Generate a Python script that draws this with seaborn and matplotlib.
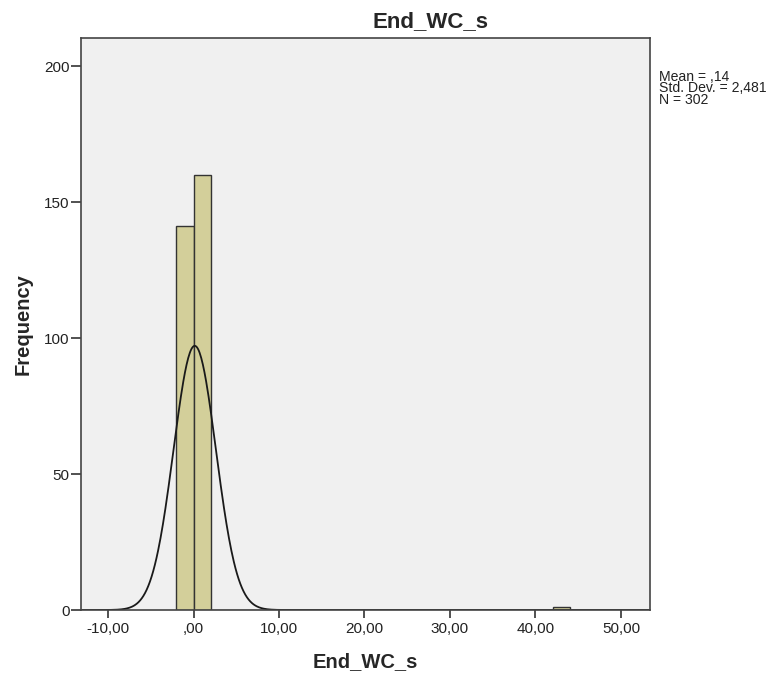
import numpy as np
import pandas as pd
import matplotlib
matplotlib.use("Agg")
import matplotlib.pyplot as plt
import seaborn as sns

# Data
bin_edges = [-2, 0, 2, 4, 6, 8, 10, 12, 14, 16, 18, 20, 22, 24, 26, 28, 30, 32, 34, 36, 38, 40, 42, 44]
bin_centers = [-1, 1, 43]
counts = [141, 160, 1]
mean_val = 0.14
std_val = 2.481
n_val = 302
x_ticks = [-10, 0, 10, 20, 30, 40, 50]
x_tick_labels = ["-10,00", ",00", "10,00", "20,00", "30,00", "40,00", "50,00"]
y_ticks = [0, 50, 100, 150, 200]

sns.set_theme(style="white")
plt.rcParams['font.family'] = ['Liberation Sans', 'DejaVu Sans']

W, H = 777, 681
L, R, T, B = 80.7, 650, 38, 610
fig = plt.figure(figsize=(W / 100, H / 100), dpi=100)
ax = fig.add_axes([L / W, 1 - B / H, (R - L) / W, (B - T) / H])
ax.set_facecolor("#F0F0F0")

df = pd.DataFrame({"x": bin_centers, "w": counts})
sns.histplot(data=df, x="x", weights="w", bins=bin_edges, ax=ax,
             color="#D3CF9A", edgecolor="#333333", linewidth=1.0, alpha=1.0)

xmin, xmax = -13.2, 53.4
binw = 2
xs = np.linspace(xmin, xmax, 700)
ys = n_val * binw / (std_val * np.sqrt(2 * np.pi)) * np.exp(-0.5 * ((xs - mean_val) / std_val) ** 2)
sns.lineplot(x=xs, y=ys, ax=ax, color="#1a1a1a", linewidth=1.3)

ax.set_xlim(xmin, xmax)
ax.set_ylim(0, 210.3)
ax.set_xticks(x_ticks)
ax.set_xticklabels(x_tick_labels, fontsize=11, color="#222222")
ax.set_yticks(y_ticks)
ax.set_yticklabels([str(v) for v in y_ticks], fontsize=11, color="#222222")
ax.tick_params(axis="x", direction="out", length=5.8, width=1.2, color="#333333",
               bottom=True, pad=2.5)
ax.tick_params(axis="y", direction="out", length=7.0, width=1.2, color="#333333",
               left=True, pad=1)
for s in ax.spines.values():
    s.set_color("#444444")
    s.set_linewidth(1.2)

ax.set_xlabel("End_WC_s", fontsize=14.5, fontweight="bold", va="top")
ax.xaxis.set_label_coords(0.5, (B - 652) / (B - T))
ax.set_ylabel("Frequency", fontsize=14.5, fontweight="bold")
ax.yaxis.set_label_coords((33 - L) / (R - L), 0.5)

fig.text(430 / W, 1 - 27.5 / H, "End_WC_s", ha="center", va="baseline",
         fontsize=16, fontweight="bold")

fig.text(659 / W, 1 - 70 / H, "Mean = ,14\nStd. Dev. = 2,481\nN = 302", ha="left", va="top",
         fontsize=10.1, linespacing=0.75, color="#222222")

fig.savefig("out.png", dpi=100, facecolor="white")
